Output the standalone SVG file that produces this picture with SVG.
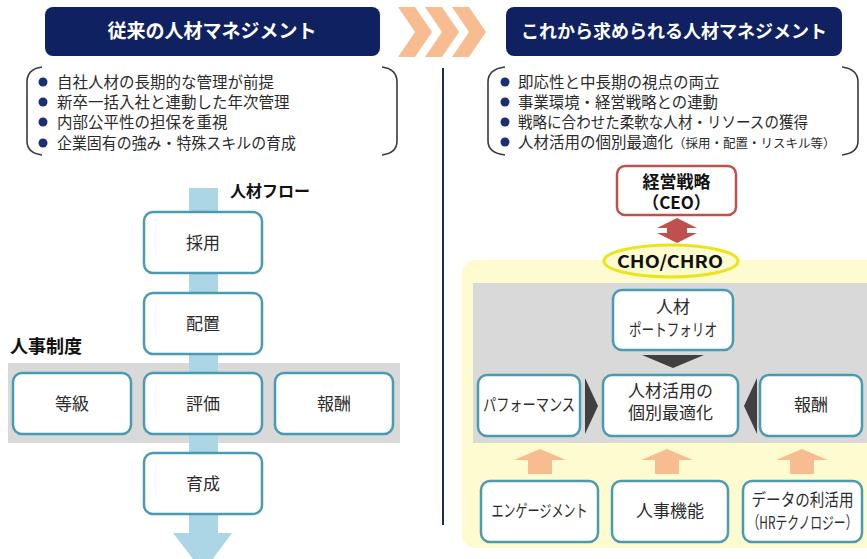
<svg xmlns="http://www.w3.org/2000/svg" width="867" height="559" viewBox="0 0 867 559">
<style>
text{font-family:"Noto Sans CJK JP","Noto Sans",sans-serif;fill:#2b2b2b}
.hdr{fill:#102162}
.hdrt{fill:#fff;font-weight:bold;text-anchor:middle}
.brk{fill:none;stroke:#3a3a3a;stroke-width:1.6}
.bul{fill:#1d2f6e}
.bt{font-size:15.5px}
.box{fill:#fff;stroke:#4a9bb2;stroke-width:2.5}
.bx{text-anchor:middle;font-size:17px}
.lbl{font-weight:bold;fill:#111}
.tri{fill:#404040}
.org{fill:#f7bd90}
</style>
<rect x="0" y="0" width="867" height="559" fill="#fff"/>

<!-- left header -->
<g id="hdr-left">
<rect class="hdr" x="45" y="7" width="335" height="49" rx="8"/>
<text class="hdrt" x="212" y="38" font-size="19">従来の人材マネジメント</text>
</g>
<g id="chevrons">
<polygon class="org" points="398,7 415,7 432,32 415,57 398,57 415,32"/>
<polygon class="org" points="425,7 442,7 459,32 442,57 425,57 442,32"/>
<polygon class="org" points="452,7 469,7 486,32 469,57 452,57 469,32"/>
</g>
<g id="hdr-right">
<rect class="hdr" x="506" y="7" width="336" height="49" rx="8"/>
<text class="hdrt" x="674" y="38" font-size="18">これから求められる人材マネジメント</text>
</g>

<!-- left bullets -->
<g id="bullets-left">
<path class="brk" d="M42 67 Q27 69 27 82 L27 141 Q27 153 42 155"/>
<path class="brk" d="M382 67 Q397 69 397 82 L397 141 Q397 153 382 155"/>
<circle class="bul" cx="43" cy="82" r="4.5"/>
<circle class="bul" cx="43" cy="102" r="4.5"/>
<circle class="bul" cx="43" cy="122" r="4.5"/>
<circle class="bul" cx="43" cy="143" r="4.5"/>
<text class="bt" x="57" y="87.5">自社人材の長期的な管理が前提</text>
<text class="bt" x="57" y="107.5">新卒一括入社と連動した年次管理</text>
<text class="bt" x="57" y="127.5">内部公平性の担保を重視</text>
<text class="bt" x="57" y="148.5" textLength="239" lengthAdjust="spacingAndGlyphs">企業固有の強み・特殊スキルの育成</text>
</g>

<!-- right bullets -->
<g id="bullets-right">
<path class="brk" d="M505 67 Q488 69 488 82 L488 141 Q488 153 505 155"/>
<path class="brk" d="M842 67 Q858 69 858 82 L858 141 Q858 153 842 155"/>
<circle class="bul" cx="505" cy="82" r="4.5"/>
<circle class="bul" cx="505" cy="102" r="4.5"/>
<circle class="bul" cx="505" cy="122" r="4.5"/>
<circle class="bul" cx="505" cy="142" r="4.5"/>
<text class="bt" x="518" y="87.5">即応性と中長期の視点の両立</text>
<text class="bt" x="518" y="107.5" textLength="200" lengthAdjust="spacingAndGlyphs">事業環境・経営戦略との連動</text>
<text class="bt" x="518" y="127.5" textLength="290" lengthAdjust="spacingAndGlyphs">戦略に合わせた柔軟な人材・リソースの獲得</text>
<text class="bt" x="518" y="147.5">人材活用の個別最適化<tspan font-size="12.5px">（採用・配置・リスキル等）</tspan></text>
</g>

<!-- divider -->
<line x1="443" y1="68" x2="443" y2="525" stroke="#1f2a50" stroke-width="2"/>

<!-- backgrounds -->
<rect id="band-left" x="8" y="363" width="392" height="80" fill="#d9d9d9"/>
<rect id="panel" x="462" y="260" width="420" height="288" rx="14" fill="#fdfbcf"/>
<rect id="band-right" x="473" y="283" width="400" height="160" fill="#d9d9d9"/>

<g id="connectors">
<polygon id="flow-arrow" fill="#acd6e5" points="189,188 218,188 218,533 232,533 203,572 173,533 189,533"/>
<polygon id="ceo-arrow" fill="#c0504d" points="677,218 697,228 687,228 687,233 697,233 677,243 657,233 667,233 667,228 657,228"/>
<polygon class="tri" points="642,355 704,355 673,368"/>
<polygon class="tri" points="585,378 598,406 585,434"/>
<polygon class="tri" points="757,378 744,406 757,434"/>
<polygon class="org" points="540,449 566,460 552,460 552,474 528,474 528,460 514,460"/>
<polygon class="org" points="667,449 693,460 679,460 679,474 655,474 655,460 641,460"/>
<polygon class="org" points="802,449 828,460 814,460 814,474 790,474 790,460 776,460"/>
</g>

<text class="lbl" x="230" y="197" font-size="16">人材フロー</text>
<text class="lbl" x="10" y="353" font-size="18">人事制度</text>

<g id="n-saiyo"><rect class="box" x="144" y="212" width="118" height="61" rx="9"/><text class="bx" x="203" y="248.5">採用</text></g>
<g id="n-haichi"><rect class="box" x="144" y="293" width="118" height="61" rx="9"/><text class="bx" x="203" y="329.5">配置</text></g>
<g id="n-tokyu"><rect class="box" x="13" y="373" width="118" height="61" rx="9"/><text class="bx" x="72" y="409.5">等級</text></g>
<g id="n-hyoka"><rect class="box" x="144" y="373" width="118" height="61" rx="9"/><text class="bx" x="203" y="409.5">評価</text></g>
<g id="n-hoshu-l"><rect class="box" x="275" y="373" width="118" height="61" rx="9"/><text class="bx" x="334" y="409.5">報酬</text></g>
<g id="n-ikusei"><rect class="box" x="144" y="453" width="118" height="61" rx="9"/><text class="bx" x="203" y="489.5">育成</text></g>

<g id="n-ceo">
<rect x="617" y="166" width="119" height="49" rx="8" fill="#fff" stroke="#c0504d" stroke-width="2.5"/>
<text class="bx lbl" x="676.5" y="187.5" font-size="15">経営戦略</text>
<text class="bx lbl" x="676.5" y="209" font-size="15">（CEO）</text>
</g>
<g id="n-cho">
<ellipse cx="671" cy="261" rx="67" ry="16" fill="#fdfbcf" stroke="#ece31c" stroke-width="3"/>
<text class="bx lbl" x="670" y="268" font-size="20" textLength="106" lengthAdjust="spacingAndGlyphs">CHO/CHRO</text>
</g>
<g id="n-portfolio"><rect class="box" x="613" y="290" width="120" height="60" rx="9"/>
<text class="bx" x="673" y="313" font-size="15">人材</text>
<text class="bx" x="673" y="336" font-size="14" textLength="88" lengthAdjust="spacingAndGlyphs">ポートフォリオ</text></g>
<g id="n-perf"><rect class="box" x="478" y="375" width="102" height="61" rx="9"/><text class="bx" x="529" y="410.5" font-size="14" textLength="92" lengthAdjust="spacingAndGlyphs">パフォーマンス</text></g>
<g id="n-opt"><rect class="box" x="603" y="375" width="135" height="61" rx="9"/>
<text class="bx" x="670.5" y="397" font-size="14.5">人材活用の</text>
<text class="bx" x="670.5" y="419" font-size="14.5">個別最適化</text></g>
<g id="n-hoshu-r"><rect class="box" x="760" y="375" width="102" height="61" rx="9"/><text class="bx" x="811" y="411">報酬</text></g>
<g id="n-engage"><rect class="box" x="481" y="481" width="117" height="61" rx="9"/><text class="bx" x="539.5" y="516.5" font-size="13.5" textLength="96" lengthAdjust="spacingAndGlyphs">エンゲージメント</text></g>
<g id="n-jinji"><rect class="box" x="612" y="481" width="116" height="61" rx="9"/><text class="bx" x="670" y="517" font-size="16">人事機能</text></g>
<g id="n-data"><rect class="box" x="743" y="481" width="119" height="61" rx="9"/>
<text class="bx" x="802.5" y="506" font-size="14.5" textLength="102" lengthAdjust="spacingAndGlyphs">データの利活用</text>
<text class="bx" x="802.5" y="529" font-size="14" textLength="110" lengthAdjust="spacingAndGlyphs">（HRテクノロジー）</text></g>
</svg>
